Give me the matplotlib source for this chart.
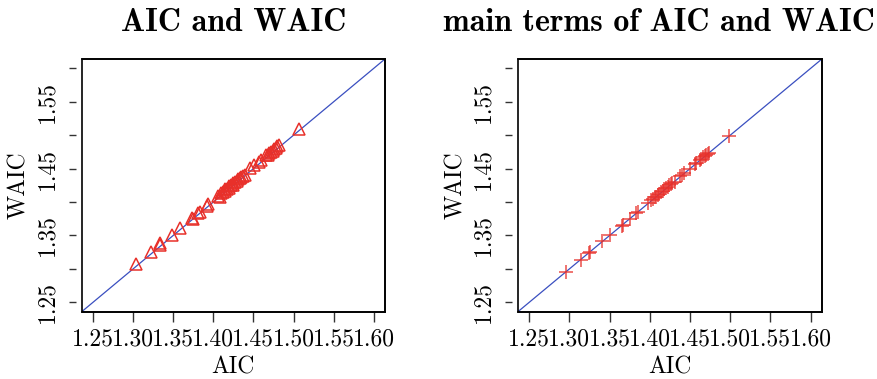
import matplotlib
matplotlib.use("Agg")
import matplotlib.pyplot as plt
from matplotlib.patches import Rectangle

# AIC vs WAIC for each fitted model
aic_full = [1.304, 1.3225, 1.333, 1.334, 1.349, 1.358, 1.373, 1.375, 1.381, 1.384,
            1.392, 1.393, 1.406, 1.408, 1.410, 1.412, 1.414, 1.415, 1.417, 1.419,
            1.420, 1.422, 1.424, 1.425, 1.427, 1.429, 1.431, 1.433, 1.435, 1.437,
            1.440, 1.446, 1.451, 1.457, 1.459, 1.466, 1.468, 1.470, 1.472, 1.474,
            1.476, 1.478, 1.480, 1.482, 1.507]
waic_full = [1.307, 1.3255, 1.3355, 1.338, 1.3505, 1.3605, 1.3755, 1.374, 1.383, 1.3845,
             1.3945, 1.397, 1.409, 1.408, 1.413, 1.415, 1.416, 1.419, 1.420, 1.421,
             1.424, 1.425, 1.426, 1.428, 1.430, 1.431, 1.434, 1.436, 1.437, 1.439,
             1.4405, 1.4505, 1.4555, 1.4605, 1.463, 1.4705, 1.470, 1.473, 1.4755, 1.476,
             1.479, 1.481, 1.4835, 1.4855, 1.5095]

# main terms only
aic_main = [1.296, 1.314, 1.324, 1.326, 1.341, 1.350, 1.365, 1.367, 1.375, 1.383,
            1.385, 1.398, 1.402, 1.404, 1.406, 1.408, 1.410, 1.412, 1.414, 1.416,
            1.418, 1.420, 1.422, 1.424, 1.426, 1.428, 1.431, 1.438, 1.440, 1.442,
            1.450, 1.456, 1.458, 1.462, 1.464, 1.466, 1.468, 1.470, 1.472, 1.473,
            1.499]
waic_main = [1.2955, 1.314, 1.3245, 1.326, 1.3415, 1.3505, 1.364, 1.366, 1.374, 1.383,
             1.385, 1.398, 1.403, 1.404, 1.407, 1.408, 1.411, 1.412, 1.415, 1.417,
             1.419, 1.421, 1.423, 1.425, 1.427, 1.429, 1.4305, 1.439, 1.441, 1.443,
             1.4495, 1.457, 1.458, 1.463, 1.465, 1.467, 1.469, 1.471, 1.472, 1.474,
             1.499]

tick_vals = [1.25, 1.30, 1.35, 1.40, 1.45, 1.50, 1.55, 1.60]
x_tick_labels = ["1.25", "1.30", "1.35", "1.40", "1.45", "1.50", "1.55", "1.60"]
y_tick_labels = ["1.25", "", "1.35", "", "1.45", "", "1.55", ""]
titles = ["AIC and WAIC", "main terms of AIC and WAIC"]
lims = (1.236, 1.614)

plt.rcParams["font.family"] = ["cmr10", "DejaVu Serif"]
plt.rcParams["axes.formatter.use_mathtext"] = True

fig = plt.figure(figsize=(8.77, 3.79), dpi=100)
ax1 = fig.add_axes([0.0932, 0.1776, 0.3458, 0.6668])
ax2 = fig.add_axes([0.5906, 0.1776, 0.3466, 0.6668])

red = "#e8302a"
blue = "#3a4fc0"

panels = [(ax1, aic_full, waic_full, "^", titles[0], 0.5),
          (ax2, aic_main, waic_main, "+", titles[1], 0.464)]

for ax, xs, ys, mk, ttl, tx in panels:
    # y axis sits a little away from the box; set before ticks (it resets them)
    ax.spines["left"].set_position(("outward", 4))
    ax.spines["left"].set_color("none")
    for side in ["top", "right", "bottom"]:
        ax.spines[side].set_linewidth(1.2)
    ax.add_patch(Rectangle((0, 0), 1, 1, transform=ax.transAxes, fill=False,
                           lw=1.2, edgecolor="black", clip_on=False, zorder=5))

    ax.set_xlim(*lims)
    ax.set_ylim(*lims)
    ax.plot([0, 1], [0, 1], transform=ax.transAxes, color=blue, lw=0.9, zorder=2)
    if mk == "^":
        ax.plot(xs, ys, linestyle="none", marker="^", ms=8, mfc="none",
                mec=red, mew=1.1, zorder=3)
    else:
        ax.plot(xs, ys, linestyle="none", marker="+", ms=10, mec=red,
                mew=1.1, alpha=0.85, zorder=3)

    ax.set_xticks(tick_vals)
    ax.set_xticklabels(x_tick_labels, fontsize=17)
    ax.set_yticks(tick_vals)
    ax.set_yticklabels(y_tick_labels, fontsize=17, rotation=90, va="center")
    ax.tick_params(axis="x", direction="out", length=7, width=1.0, color="#333333", pad=5)
    ax.tick_params(axis="y", direction="out", length=5, width=1.0, color="#333333", pad=8)

    ax.set_xlabel("AIC", fontsize=17, labelpad=4)
    ax.set_ylabel("WAIC", fontsize=17, labelpad=4)
    ax.set_title(ttl, fontsize=23, family="cmb10", pad=20, x=tx)

fig.savefig("out.png", dpi=100)
